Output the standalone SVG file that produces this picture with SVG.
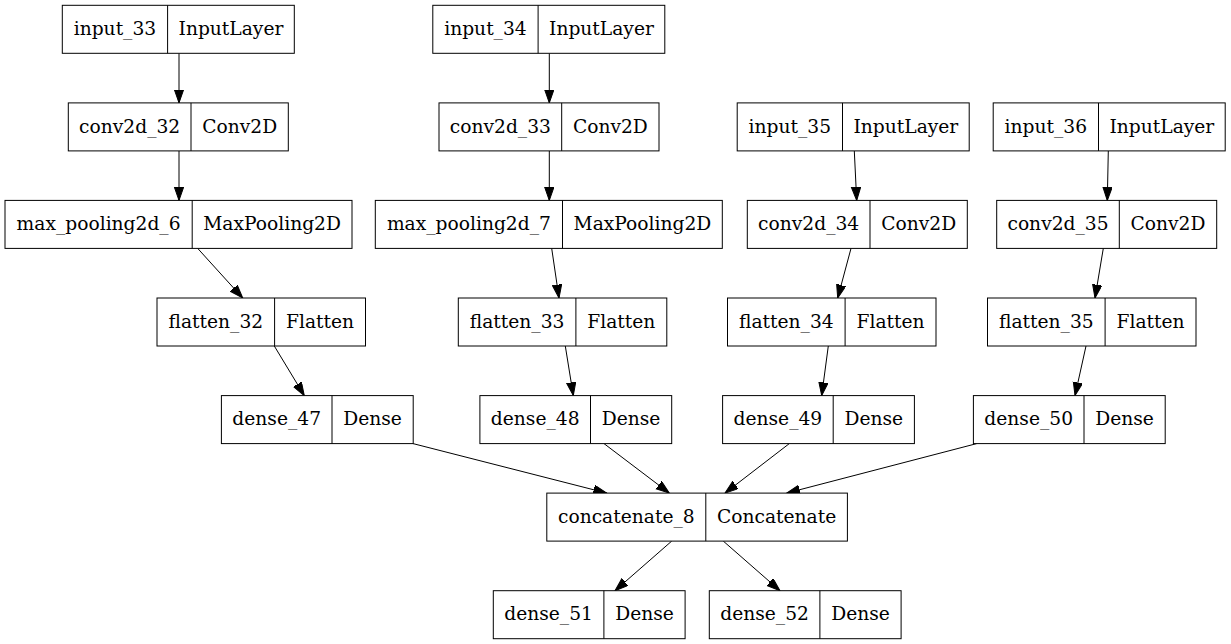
<svg xmlns="http://www.w3.org/2000/svg" width="1231" height="644" viewBox="0 0 1231 644">
<style>
.box{fill:#ffffff;stroke:#000000;stroke-width:1}
.div{stroke:#000000;stroke-width:1}
.t{font-family:"DejaVu Serif","Liberation Serif",serif;font-size:18.67px;fill:#000000;text-anchor:middle}
.e{stroke:#000000;stroke-width:1;fill:none;marker-end:url(#ah)}
</style>
<defs>
<marker id="ah" markerUnits="userSpaceOnUse" markerWidth="15" markerHeight="11" refX="13.3" refY="4.67" orient="auto" viewBox="0 0 15 11">
<path d="M0,0 L13.3,4.67 L0,9.33 Z" fill="#000000" stroke="#000000" stroke-width="1"/>
</marker>
</defs>
<rect x="0" y="0" width="1231" height="644" fill="#ffffff"/>

<g id="connectors">
<line class="e" x1="179" y1="53.3" x2="179" y2="102.9"/>
<line class="e" x1="179" y1="150.9" x2="179" y2="200.4"/>
<line class="e" x1="197.7" y1="248.4" x2="242.7" y2="298"/>
<line class="e" x1="274.3" y1="346" x2="304.3" y2="395.6"/>
<line class="e" x1="413" y1="443.6" x2="606.7" y2="493.1"/>
<line class="e" x1="549.3" y1="53.3" x2="549.3" y2="102.9"/>
<line class="e" x1="549.3" y1="150.9" x2="549.3" y2="200.4"/>
<line class="e" x1="551.7" y1="248.4" x2="559" y2="298"/>
<line class="e" x1="565.3" y1="346" x2="573.3" y2="395.6"/>
<line class="e" x1="604" y1="443.6" x2="669.3" y2="493.1"/>
<line class="e" x1="854.3" y1="150.9" x2="856.7" y2="200.4"/>
<line class="e" x1="851" y1="248.4" x2="837.7" y2="298"/>
<line class="e" x1="828.3" y1="346" x2="821.7" y2="395.6"/>
<line class="e" x1="789.3" y1="443.6" x2="725" y2="493.1"/>
<line class="e" x1="1108.3" y1="150.9" x2="1107.3" y2="200.4"/>
<line class="e" x1="1103.3" y1="248.4" x2="1095" y2="298"/>
<line class="e" x1="1086" y1="346" x2="1075" y2="395.6"/>
<line class="e" x1="976.7" y1="443.6" x2="786.7" y2="493.1"/>
<line class="e" x1="671.7" y1="541.1" x2="615" y2="590.7"/>
<line class="e" x1="723.3" y1="541.1" x2="780" y2="590.7"/>
</g>

<g id="input_33">
<rect class="box" x="62.3" y="5.3" width="232" height="48"/>
<line class="div" x1="167.6" y1="5.3" x2="167.6" y2="53.3"/>
<text class="t" x="114.95" y="35">input_33</text>
<text class="t" x="230.95" y="35">InputLayer</text>
</g>
<g id="conv2d_32">
<rect class="box" x="68.3" y="102.9" width="220" height="48"/>
<line class="div" x1="191" y1="102.9" x2="191" y2="150.9"/>
<text class="t" x="129.65" y="132.6">conv2d_32</text>
<text class="t" x="239.65" y="132.6">Conv2D</text>
</g>
<g id="max_pooling2d_6">
<rect class="box" x="5" y="200.4" width="347" height="48"/>
<line class="div" x1="192.2" y1="200.4" x2="192.2" y2="248.4"/>
<text class="t" x="98.6" y="230.1">max_pooling2d_6</text>
<text class="t" x="272.1" y="230.1">MaxPooling2D</text>
</g>
<g id="flatten_32">
<rect class="box" x="157" y="298" width="208.5" height="48"/>
<line class="div" x1="274.6" y1="298" x2="274.6" y2="346"/>
<text class="t" x="215.8" y="327.7">flatten_32</text>
<text class="t" x="320.05" y="327.7">Flatten</text>
</g>
<g id="dense_47">
<rect class="box" x="221.4" y="395.6" width="191.8" height="48"/>
<line class="div" x1="332" y1="395.6" x2="332" y2="443.6"/>
<text class="t" x="276.7" y="425.3">dense_47</text>
<text class="t" x="372.6" y="425.3">Dense</text>
</g>

<g id="input_34">
<rect class="box" x="432.8" y="5.3" width="232" height="48"/>
<line class="div" x1="538.1" y1="5.3" x2="538.1" y2="53.3"/>
<text class="t" x="485.45" y="35">input_34</text>
<text class="t" x="601.45" y="35">InputLayer</text>
</g>
<g id="conv2d_33">
<rect class="box" x="439" y="102.9" width="220" height="48"/>
<line class="div" x1="561.7" y1="102.9" x2="561.7" y2="150.9"/>
<text class="t" x="500.35" y="132.6">conv2d_33</text>
<text class="t" x="610.35" y="132.6">Conv2D</text>
</g>
<g id="max_pooling2d_7">
<rect class="box" x="375.3" y="200.4" width="347" height="48"/>
<line class="div" x1="562.5" y1="200.4" x2="562.5" y2="248.4"/>
<text class="t" x="468.9" y="230.1">max_pooling2d_7</text>
<text class="t" x="642.4" y="230.1">MaxPooling2D</text>
</g>
<g id="flatten_33">
<rect class="box" x="458.3" y="298" width="208.5" height="48"/>
<line class="div" x1="575.9" y1="298" x2="575.9" y2="346"/>
<text class="t" x="517.1" y="327.7">flatten_33</text>
<text class="t" x="621.35" y="327.7">Flatten</text>
</g>
<g id="dense_48">
<rect class="box" x="479.9" y="395.6" width="191.8" height="48"/>
<line class="div" x1="590.5" y1="395.6" x2="590.5" y2="443.6"/>
<text class="t" x="535.2" y="425.3">dense_48</text>
<text class="t" x="631.1" y="425.3">Dense</text>
</g>

<g id="input_35">
<rect class="box" x="737.2" y="102.9" width="232" height="48"/>
<line class="div" x1="842.5" y1="102.9" x2="842.5" y2="150.9"/>
<text class="t" x="789.85" y="132.6">input_35</text>
<text class="t" x="905.85" y="132.6">InputLayer</text>
</g>
<g id="conv2d_34">
<rect class="box" x="747.3" y="200.4" width="220" height="48"/>
<line class="div" x1="870" y1="200.4" x2="870" y2="248.4"/>
<text class="t" x="808.65" y="230.1">conv2d_34</text>
<text class="t" x="918.65" y="230.1">Conv2D</text>
</g>
<g id="flatten_34">
<rect class="box" x="727.5" y="298" width="208.5" height="48"/>
<line class="div" x1="845.1" y1="298" x2="845.1" y2="346"/>
<text class="t" x="786.3" y="327.7">flatten_34</text>
<text class="t" x="890.55" y="327.7">Flatten</text>
</g>
<g id="dense_49">
<rect class="box" x="722.6" y="395.6" width="191.8" height="48"/>
<line class="div" x1="833.2" y1="395.6" x2="833.2" y2="443.6"/>
<text class="t" x="777.9" y="425.3">dense_49</text>
<text class="t" x="873.8" y="425.3">Dense</text>
</g>

<g id="input_36">
<rect class="box" x="993.2" y="102.9" width="232" height="48"/>
<line class="div" x1="1098.5" y1="102.9" x2="1098.5" y2="150.9"/>
<text class="t" x="1045.85" y="132.6">input_36</text>
<text class="t" x="1161.85" y="132.6">InputLayer</text>
</g>
<g id="conv2d_35">
<rect class="box" x="996.7" y="200.4" width="220" height="48"/>
<line class="div" x1="1119.3" y1="200.4" x2="1119.3" y2="248.4"/>
<text class="t" x="1058" y="230.1">conv2d_35</text>
<text class="t" x="1168" y="230.1">Conv2D</text>
</g>
<g id="flatten_35">
<rect class="box" x="987.5" y="298" width="208.5" height="48"/>
<line class="div" x1="1105.1" y1="298" x2="1105.1" y2="346"/>
<text class="t" x="1046.3" y="327.7">flatten_35</text>
<text class="t" x="1150.55" y="327.7">Flatten</text>
</g>
<g id="dense_50">
<rect class="box" x="973.4" y="395.6" width="191.8" height="48"/>
<line class="div" x1="1084" y1="395.6" x2="1084" y2="443.6"/>
<text class="t" x="1028.7" y="425.3">dense_50</text>
<text class="t" x="1124.6" y="425.3">Dense</text>
</g>

<g id="concatenate_8">
<rect class="box" x="546.8" y="493.1" width="300.6" height="48"/>
<line class="div" x1="705.8" y1="493.1" x2="705.8" y2="541.1"/>
<text class="t" x="626.3" y="522.8">concatenate_8</text>
<text class="t" x="776.6" y="522.8">Concatenate</text>
</g>
<g id="dense_51">
<rect class="box" x="493.3" y="590.7" width="191.8" height="48"/>
<line class="div" x1="603.9" y1="590.7" x2="603.9" y2="638.7"/>
<text class="t" x="548.6" y="620.4">dense_51</text>
<text class="t" x="644.5" y="620.4">Dense</text>
</g>
<g id="dense_52">
<rect class="box" x="709.3" y="590.7" width="191.8" height="48"/>
<line class="div" x1="819.9" y1="590.7" x2="819.9" y2="638.7"/>
<text class="t" x="764.6" y="620.4">dense_52</text>
<text class="t" x="860.5" y="620.4">Dense</text>
</g>
</svg>
